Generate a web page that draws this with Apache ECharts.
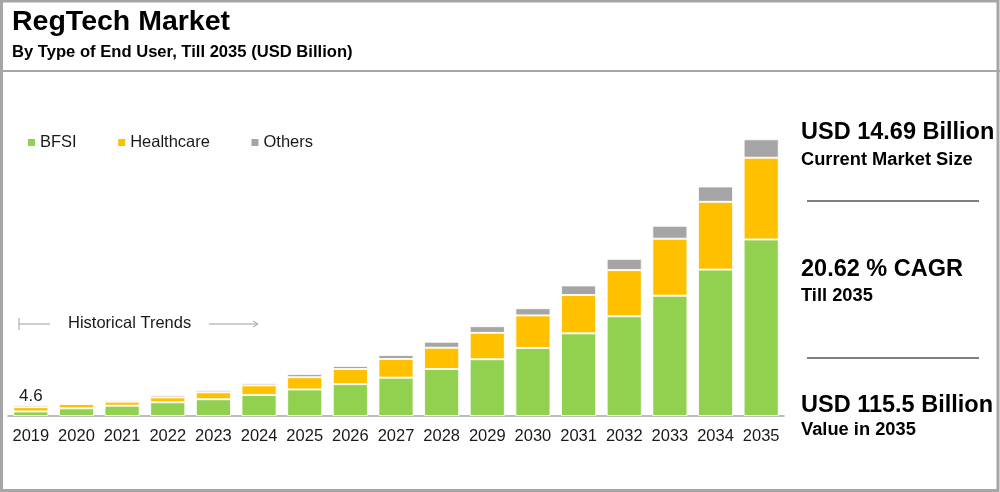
<!DOCTYPE html>
<html>
<head>
<meta charset="utf-8">
<script src="https://cdn.jsdelivr.net/npm/echarts@6/dist/echarts.min.js"></script>
<style>
html,body{margin:0;padding:0;background:#fff;}
#c{width:1000px;height:492px;}
</style>
</head>
<body>
<div id="c"></div>
<script>
var years = ['2019','2020','2021','2022','2023','2024','2025','2026','2027','2028','2029','2030','2031','2032','2033','2034','2035'];
var bfsi = [1.9, 3.2, 4.3, 5.7, 7.0, 8.8, 11.1, 13.3, 16.0, 19.6, 23.7, 28.4, 34.5, 41.6, 50.2, 61.1, 73.7];
var healthcare = [1.8, 1.8, 1.7, 2.1, 2.9, 4.0, 5.1, 6.3, 7.8, 8.9, 11.0, 13.6, 16.0, 19.3, 23.8, 28.3, 34.1];
var others = [0.9, 0.2, 0.7, 1.0, 1.0, 1.0, 1.3, 1.3, 1.7, 2.5, 2.8, 3.0, 4.0, 4.7, 5.4, 6.4, 7.7];
var seriesNames = ['BFSI', 'Healthcare', 'Others'];
var colors = ['#92D050', '#FFC000', '#A5A5A5'];
var titleText = 'RegTech Market';
var subtitleText = 'By Type of End User, Till 2035 (USD Billion)';
var stats = [
  ['USD 14.69 Billion', 'Current Market Size'],
  ['20.62 % CAGR', 'Till 2035'],
  ['USD 115.5 Billion', 'Value in 2035']
];
var histText = 'Historical Trends';

var FF = "'Liberation Sans', Arial, Helvetica, sans-serif";
var chart = echarts.init(document.getElementById('c'));

function barSeries(name, data, color, idx) {
  var s = {
    name: name, type: 'bar', stack: 'total', data: data,
    barCategoryGap: '23%',
    itemStyle: { color: color, borderColor: 'rgba(255,255,255,0.85)', borderWidth: 1 },
    emphasis: { disabled: true }
  };
  if (idx === 2) {
    s.label = {
      show: true, position: 'top', distance: 0,
      fontFamily: FF, fontSize: 17, color: '#1a1a1a',
      formatter: function (p) {
        if (p.dataIndex !== 0) return '';
        var t = bfsi[0] + healthcare[0] + others[0];
        return (Math.round(t * 10) / 10).toString();
      }
    };
  }
  return s;
}

var graphics = [
  { type: 'rect', shape: { x: 1.5, y: 1, width: 996.5, height: 489.5 }, style: { fill: 'none', stroke: '#A6A6A6', lineWidth: 3 }, silent: true },
  { type: 'line', shape: { x1: 0, y1: 71, x2: 1000, y2: 71 }, style: { stroke: '#A6A6A6', lineWidth: 2 }, silent: true },
  { type: 'text', left: 12, top: 8, style: { text: titleText, font: 'bold 28.5px ' + FF, fill: '#000' } },
  { type: 'text', left: 12, top: 44, style: { text: subtitleText, font: 'bold 16.6px ' + FF, fill: '#000' } },
  { type: 'line', shape: { x1: 19, y1: 318, x2: 19, y2: 330 }, style: { stroke: '#A0A0A0', lineWidth: 1 }, silent: true },
  { type: 'line', shape: { x1: 19, y1: 324, x2: 50, y2: 324 }, style: { stroke: '#A0A0A0', lineWidth: 1 }, silent: true },
  { type: 'line', shape: { x1: 209, y1: 324, x2: 257, y2: 324 }, style: { stroke: '#A0A0A0', lineWidth: 1 }, silent: true },
  { type: 'polyline', shape: { points: [[253, 321], [258, 324], [253, 327]] }, style: { stroke: '#A0A0A0', fill: 'none', lineWidth: 1 }, silent: true },
  { type: 'text', left: 68, top: 315, style: { text: histText, font: '16.5px ' + FF, fill: '#1a1a1a' } },
  { type: 'line', shape: { x1: 807, y1: 201, x2: 979, y2: 201 }, style: { stroke: '#7F7F7F', lineWidth: 2 }, silent: true },
  { type: 'line', shape: { x1: 807, y1: 358, x2: 979, y2: 358 }, style: { stroke: '#7F7F7F', lineWidth: 2 }, silent: true }
];
var headTops = [121, 258, 394];
var subTops = [151, 287, 421];
stats.forEach(function (s, i) {
  graphics.push({ type: 'text', left: 801, top: headTops[i], style: { text: s[0], font: 'bold 23.5px ' + FF, fill: '#000' } });
  graphics.push({ type: 'text', left: 801, top: subTops[i], style: { text: s[1], font: 'bold 18.3px ' + FF, fill: '#000' } });
});

chart.setOption({
  animation: false,
  backgroundColor: '#fff',
  color: colors,
  legend: {
    data: seriesNames, left: 23, top: 129,
    itemWidth: 7, itemHeight: 7, itemGap: 41.5,
    icon: 'rect',
    itemStyle: { borderWidth: 0 },
    textStyle: { fontFamily: FF, fontSize: 16.5, color: '#1a1a1a' }
  },
  grid: { left: 8, width: 776, top: 128.5, height: 287.5, containLabel: false },
  xAxis: {
    type: 'category', data: years,
    axisLine: { lineStyle: { color: '#A6A6A6', width: 1.5 } },
    axisTick: { show: false },
    axisLabel: { fontFamily: FF, fontSize: 16.5, color: '#1a1a1a', margin: 12, interval: 0 }
  },
  yAxis: { type: 'value', min: 0, max: 120, show: false, splitLine: { show: false } },
  series: [
    barSeries(seriesNames[0], bfsi, colors[0], 0),
    barSeries(seriesNames[1], healthcare, colors[1], 1),
    barSeries(seriesNames[2], others, colors[2], 2)
  ],
  graphic: graphics
});
</script>
</body>
</html>
